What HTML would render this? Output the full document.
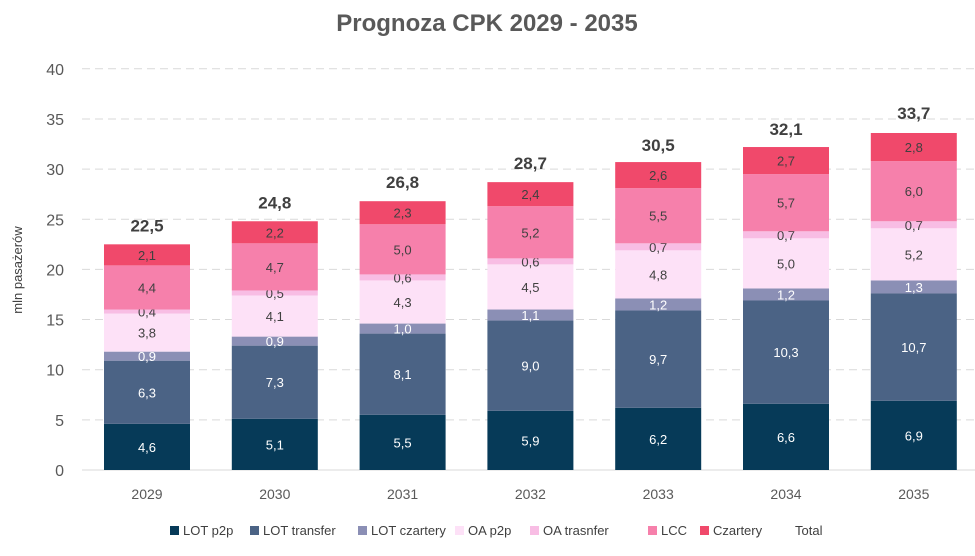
<!DOCTYPE html>
<html><head><meta charset="utf-8"><style>
body{margin:0;background:#fff;font-family:"Liberation Sans",sans-serif}
svg text{font-family:"Liberation Sans",sans-serif}
</style></head><body>
<svg id="c" width="975" height="551">
<text x="487" y="31" text-anchor="middle" font-size="24" font-weight="bold" fill="#595959">Prognoza CPK 2029 - 2035</text>
<text transform="translate(22,270) rotate(-90)" text-anchor="middle" font-size="13" fill="#404040">mln pasażerów</text>
<g id="grid"></g><g id="bars"></g><g id="legend"></g>
</svg>
<script>
const years=["2029","2030","2031","2032","2033","2034","2035"];
const lotP2p=[4.6,5.1,5.5,5.9,6.2,6.6,6.9];
const lotTransfer=[6.3,7.3,8.1,9.0,9.7,10.3,10.7];
const lotCzartery=[0.9,0.9,1.0,1.1,1.2,1.2,1.3];
const oaP2p=[3.8,4.1,4.3,4.5,4.8,5.0,5.2];
const oaTransfer=[0.4,0.5,0.6,0.6,0.7,0.7,0.7];
const lcc=[4.4,4.7,5.0,5.2,5.5,5.7,6.0];
const czartery=[2.1,2.2,2.3,2.4,2.6,2.7,2.8];
const totals=[22.5,24.8,26.8,28.7,30.5,32.1,33.7];
const yTicks=[0,5,10,15,20,25,30,35,40];
const seriesNames=["LOT p2p","LOT transfer","LOT czartery","OA p2p","OA trasnfer","LCC","Czartery"];
const series=[lotP2p,lotTransfer,lotCzartery,oaP2p,oaTransfer,lcc,czartery];
const colors=["#063a58","#4b6385","#8b8fb5","#fde1f7","#f8bde4","#f680ab","#f0496b"];
const txtCol=["#fff","#fff","#fff","#404040","#404040","#404040","#404040"];
const NS="http://www.w3.org/2000/svg";
const y=v=>470-v*10.03;
const x=i=>147+i*127.8;
const bw=86;
function mk(t,a,p){const e=document.createElementNS(NS,t);for(const k in a)e.setAttribute(k,a[k]);p.appendChild(e);return e;}
const g=document.getElementById('grid');
yTicks.forEach(t=>{
 if(t>0){const l=mk('line',{x1:82,x2:975,y1:y(t),y2:y(t),stroke:'#d9d9d9','stroke-dasharray':'8,5'},g);
 
 }
 const tx=mk('text',{x:64,y:y(t)+6,'text-anchor':'end','font-size':16,fill:'#595959'},g);tx.textContent=t;
 
 
});
const ax=mk('line',{x1:82,x2:975,y1:y(0),y2:y(0),stroke:'#d9d9d9'},g);


const b=document.getElementById('bars');
years.forEach((yr,i)=>{
 let cum=0;
 series.forEach((s,k)=>{
  const v=s[i];
  const r=mk('rect',{x:x(i)-bw/2,y:y(cum+v),width:bw,height:y(cum)-y(cum+v),fill:colors[k]},b);
  
  
  const t=mk('text',{x:x(i),y:(y(cum)+y(cum+v))/2+5,'text-anchor':'middle','font-size':13,fill:txtCol[k]},b);
  t.textContent=v.toFixed(1).replace('.',',');
  
  
  cum+=v;
 });
 const tt=mk('text',{x:x(i),y:y(totals[i])-13,'text-anchor':'middle','font-size':17,'font-weight':'bold',fill:'#404040'},b);
 tt.textContent=totals[i].toFixed(1).replace('.',',');
 
 
 const xl=mk('text',{x:x(i),y:499,'text-anchor':'middle','font-size':14,fill:'#595959'},b);
 xl.textContent=yr;
 
 
});
const lg=document.getElementById('legend');
const lx=[170,250,358,455,530,648,700];
seriesNames.forEach((n,k)=>{
 const r=mk('rect',{x:lx[k],y:526,width:9,height:9,fill:colors[k]},lg);
 
 
 const t=mk('text',{x:lx[k]+13,y:535,'font-size':13,fill:'#404040'},lg);t.textContent=n;
 
 
});
const tl=mk('text',{x:795,y:535,'font-size':13,fill:'#404040'},lg);tl.textContent="Total";


</script>
</body></html>
